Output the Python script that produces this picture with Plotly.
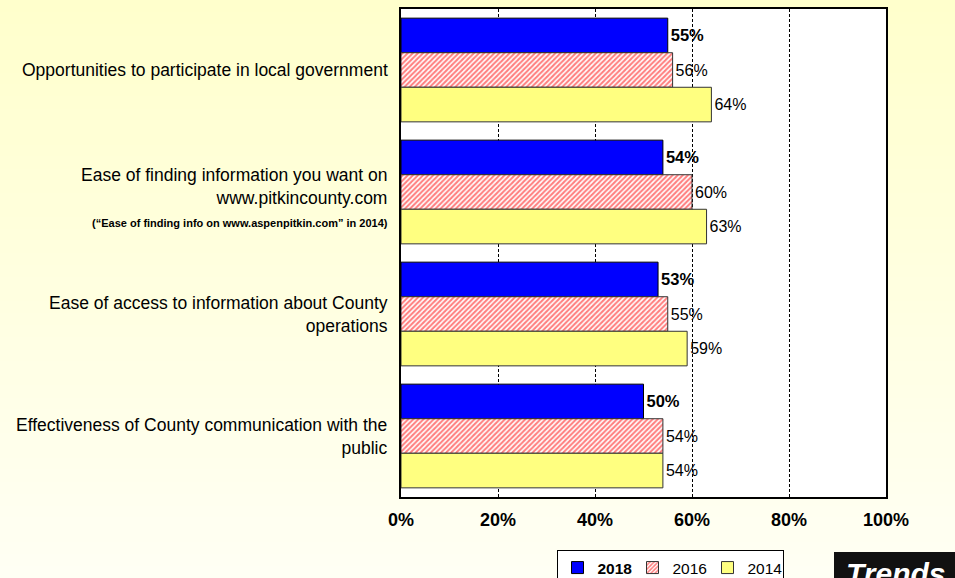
import plotly.graph_objects as go

# ---- data -------------------------------------------------------------
categories = [
    "Opportunities to participate in local government",
    "Ease of finding information you want on www.pitkincounty.com",
    "Ease of access to information about County operations",
    "Effectiveness of County communication with the public",
]
category_labels = [
    "Opportunities to participate in local government",
    "Ease of finding information you want on<br>www.pitkincounty.com<br>"
    "<span style='font-size:11px'><b>(“Ease of finding info on www.aspenpitkin.com” in 2014)</b></span>",
    "Ease of access to information about County<br>operations",
    "Effectiveness of County communication with the<br>public",
]
years = ["2018", "2016", "2014"]
values_2018 = [55, 54, 53, 50]
values_2016 = [56, 60, 55, 54]
values_2014 = [64, 63, 59, 54]
x_ticks = [0, 20, 40, 60, 80, 100]
x_tick_labels = ["0%", "20%", "40%", "60%", "80%", "100%"]

# ---- layout geometry (pixels) -----------------------------------------
W, H = 955, 578
PL, PR, PT, PB = 401, 886, 9, 497
FONT = "Arial, 'Liberation Sans', sans-serif"


def px_x(px):
    return (px - PL) / (PR - PL)


def px_y(py):
    return (PB - py) / (PB - PT)


fig = go.Figure()

series = [
    (years[0], values_2018, dict(color="#0000FF", line=dict(color="#000000", width=1)), "bold", 16.5),
    (years[1], values_2016, dict(color="#FFFFFF",
                                  pattern=dict(shape="/", fgcolor="#FF0000", bgcolor="#FFFFFF",
                                               size=3.6, solidity=0.55),
                                  line=dict(color="#333333", width=1)), "normal", 16),
    (years[2], values_2014, dict(color="#FFFF80", line=dict(color="#333333", width=1)), "normal", 16),
]

for name, vals, marker, weight, size in series:
    fig.add_trace(go.Bar(
        y=categories,
        x=vals,
        name=f"<b>{name}</b>" if weight == "bold" else name,
        orientation="h",
        marker=marker,
        text=[f"{v}%" for v in vals],
        textposition="outside",
        constraintext="none",
        textfont=dict(family=FONT, size=size, color="#000000", weight=weight),
        cliponaxis=False,
        hoverinfo="skip",
    ))

# ---- background: soft vertical yellow gradient ---------------------------
shapes = []
n_bands = 48
top_rgb = (255, 255, 204)
bot_rgb = (255, 255, 244)
for i in range(n_bands):
    t = i / (n_bands - 1)
    c = tuple(round(a + (b - a) * t) for a, b in zip(top_rgb, bot_rgb))
    y0 = H * i / n_bands
    y1 = H * (i + 1) / n_bands + 1
    shapes.append(dict(type="rect", xref="paper", yref="paper", layer="below",
                       x0=px_x(0), x1=px_x(W), y0=px_y(y1), y1=px_y(y0),
                       fillcolor="rgb(%d,%d,%d)" % c, line=dict(width=0)))
# white plotting area
shapes.append(dict(type="rect", xref="paper", yref="paper", layer="below",
                   x0=0, x1=1, y0=0, y1=1, fillcolor="#FFFFFF", line=dict(width=0)))
# "Trends" tab in the lower right corner
shapes.append(dict(type="rect", xref="paper", yref="paper", layer="above",
                   x0=px_x(834), x1=px_x(W + 5), y0=px_y(H + 5), y1=px_y(552),
                   fillcolor="#111111", line=dict(width=0)))

annotations = []
for cat, lab, ys in zip(categories, category_labels, [0, -5, 0, 0]):
    annotations.append(dict(
        x=0, xref="paper", y=cat, yref="y", xanchor="right", yanchor="middle",
        xshift=-11, yshift=ys, text=lab, showarrow=False, align="right",
        font=dict(family=FONT, size=17.5, color="#000000"),
    ))
annotations.append(dict(
    x=px_x(844), xref="paper", y=px_y(555), yref="paper", xanchor="left", yanchor="top",
    text="<b><i>Trends</i></b>", showarrow=False,
    font=dict(family=FONT, size=30, color="#FFFFFF"),
))

fig.update_layout(
    width=W, height=H,
    margin=dict(l=PL, r=W - PR, t=PT, b=H - PB, pad=0, autoexpand=False),
    paper_bgcolor="#FFFFF0",
    plot_bgcolor="#FFFFFF",
    barmode="group",
    bargap=0.15,
    bargroupgap=0,
    font=dict(family=FONT, color="#000000"),
    showlegend=True,
    legend=dict(
        orientation="h", x=px_x(670), y=px_y(550), xanchor="center", yanchor="top",
        bgcolor="#FFFFFF", bordercolor="#000000", borderwidth=1,
        font=dict(family=FONT, size=15.5, color="#000000"),
        itemwidth=30, tracegroupgap=0, traceorder="normal",
        entrywidth=30,
    ),
    shapes=shapes,
    annotations=annotations,
)

fig.update_xaxes(
    range=[0, 100], tickvals=x_ticks, ticktext=x_tick_labels,
    tickfont=dict(family=FONT, size=18, color="#000000", weight="bold"),
    showgrid=True, gridcolor="#000000", griddash="3px,2px", gridwidth=1,
    showline=True, linecolor="#000000", linewidth=2, mirror=True,
    ticks="", ticklabelstandoff=5, zeroline=False, fixedrange=True,
)
fig.update_yaxes(
    autorange="reversed", showticklabels=False, ticks="",
    showgrid=False, showline=True, linecolor="#000000", linewidth=2, mirror=True,
    zeroline=False, fixedrange=True,
)

fig.write_html("out.html", config=dict(displayModeBar=False))
